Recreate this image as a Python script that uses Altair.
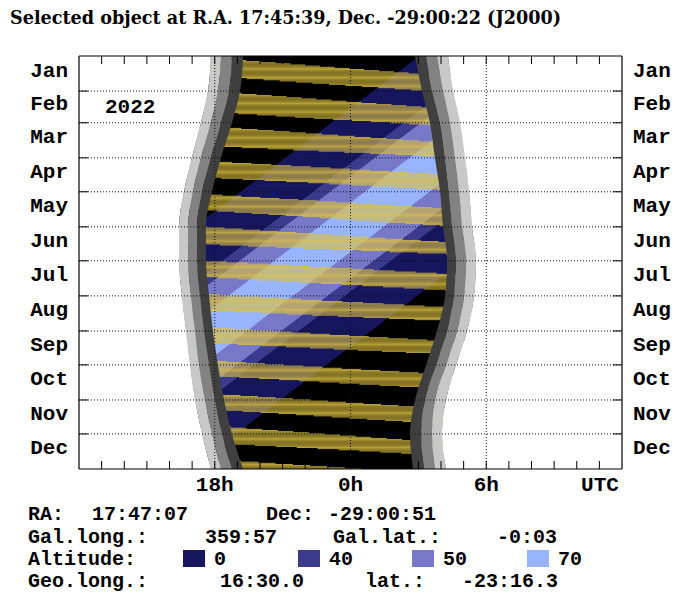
import math
import altair as alt
import pandas as pd

# ------------------------------------------------------------------ data
MONTHS = ["Jan", "Feb", "Mar", "Apr", "May", "Jun",
          "Jul", "Aug", "Sep", "Oct", "Nov", "Dec"]
MONTH_START = [0, 31, 59, 90, 120, 151, 181, 212, 243, 273, 304, 334, 365]

HOUR_TICKS = [18, 24, 30]
HOUR_LABELS = ["18h", "0h", "6h"]
HOUR_MINOR = [13, 14, 15, 16, 17, 18, 19, 20, 21, 22, 23, 24,
              25, 26, 27, 28, 29, 30, 31, 32, 33, 34, 35]

# twilight boundaries (UTC hours, 12..36 = noon..noon) at the month starts
EVE_SUNSET = [17.83, 17.70, 17.39, 16.99, 16.64, 16.42, 16.42, 16.55, 16.73, 16.91, 17.13, 17.44, 17.83]
EVE_CIVIL = [18.28, 18.14, 17.83, 17.39, 17.04, 16.82, 16.82, 16.95, 17.13, 17.30, 17.57, 17.88, 18.28]
EVE_NAUT = [18.76, 18.63, 18.28, 17.83, 17.44, 17.22, 17.22, 17.35, 17.52, 17.75, 18.01, 18.32, 18.76]
EVE_ASTRO = [19.25, 19.12, 18.76, 18.28, 17.88, 17.61, 17.61, 17.75, 17.92, 18.14, 18.41, 18.76, 19.25]
MORN_ASTRO = [26.85, 27.16, 27.51, 27.73, 27.96, 28.09, 28.27, 28.18, 27.82, 27.34, 26.85, 26.63, 26.76]
MORN_NAUT = [27.34, 27.60, 27.96, 28.18, 28.35, 28.49, 28.66, 28.57, 28.27, 27.78, 27.29, 27.12, 27.25]
MORN_CIVIL = [27.82, 28.09, 28.40, 28.62, 28.80, 28.93, 29.11, 29.02, 28.71, 28.22, 27.73, 27.60, 27.73]
MORN_SUNRISE = [28.31, 28.53, 28.84, 29.06, 29.24, 29.37, 29.55, 29.46, 29.15, 28.66, 28.22, 28.04, 28.22]

# object altitude bands: transit time at first/last day and half width (h)
ALT_LEVELS = ["0", "40", "50", "70"]
ALT_COLORS = ["#16165e", "#3b3b8e", "#7878c8", "#98b4fc"]
ALT_HALF_WIDTH = [6.92, 3.72, 2.96, 1.43]
TRANSIT_DAY = [0, 365]
TRANSIT_HOUR = [33.95, 9.97]

# moon: moonset line (waxing) and moonrise line (waning), as (day, hour)
MOONSET_LINES = [
    ((3.8, 19.25), (15.3, 26.76)),
    ((32.9, 19.12), (45.1, 27.20)),
    ((63.3, 18.67), (75.8, 27.60)),
    ((93.4, 18.23), (104.4, 27.82)),
    ((122.4, 17.83), (134.5, 28.00)),
    ((150.9, 17.57), (164.3, 28.13)),
    ((181.0, 17.61), (192.5, 28.27)),
    ((210.5, 17.75), (222.0, 28.18)),
    ((240.0, 17.92), (251.5, 27.82)),
    ((269.5, 18.10), (280.5, 27.43)),
    ((299.0, 18.36), (310.0, 26.90)),
    ((328.0, 18.72), (339.5, 26.63)),
    ((358.0, 19.16), (368.0, 26.80)),
]
MOONRISE_LINES = [
    ((19.7, 19.20), (30.3, 26.90)),
    ((50.9, 18.94), (61.1, 27.51)),
    ((80.3, 18.41), (88.5, 27.69)),
    ((107.8, 18.10), (118.1, 27.96)),
    ((136.4, 17.66), (150.2, 28.09)),
    ((166.5, 17.61), (175.0, 28.22)),
    ((195.5, 17.66), (207.0, 28.18)),
    ((225.0, 17.79), (234.0, 27.96)),
    ((254.0, 17.97), (263.0, 27.51)),
    ((283.0, 18.19), (293.0, 27.05)),
    ((313.0, 18.45), (323.5, 26.70)),
    ((343.0, 18.85), (351.5, 26.70)),
    ((373.0, 19.30), (384.0, 26.90)),
]

TITLE = "Selected object at R.A. 17:45:39, Dec. -29:00:22 (J2000)"
YEAR = "2022"
INFO_ROWS = [
    [("RA:", 28), ("17:47:07", 92), ("Dec:", 266), ("-29:00:51", 328)],
    [("Gal.long.:", 28), ("359:57", 205), ("Gal.lat.:", 333), ("-0:03", 497)],
    [("Altitude:", 28)],
    [("Geo.long.:", 28), ("16:30.0", 220), ("lat.:", 365), ("-23:16.3", 462)],
]
INFO_Y = [514, 537, 559, 581]

# ------------------------------------------------------------------ layout
W, H = 543, 413
LEFT, TOP = 79, 56          # page position of the plot area (px)
MONO = "Liberation Mono"
FS = 21
FS_INFO = 20
GRAY_LIGHT, GRAY_MID, GRAY_DARK = "#c8c8c8", "#828282", "#404040"
MOON_YELLOW = "#dcc040"

XS = alt.Scale(domain=[12, 36], nice=False, zero=False)
YS = alt.Scale(domain=[0, 365], nice=False, zero=False, reverse=True)


def X(f):
    return alt.X(f, type="quantitative", scale=XS, axis=None)


def Y(f):
    return alt.Y(f, type="quantitative", scale=YS, axis=None)


one = pd.DataFrame({"a": [0]})
layers = []

# night background
layers.append(
    alt.Chart(pd.DataFrame({"x": [12], "x2": [36], "y": [0], "y2": [365]}))
    .mark_rect(color="black")
    .encode(x=X("x"), x2="x2", y=Y("y"), y2="y2")
)

# altitude bands
for lvl, col, hw in zip(ALT_LEVELS, ALT_COLORS, ALT_HALF_WIDTH):
    for k in (-24, 0, 24):
        df = pd.DataFrame({
            "d": TRANSIT_DAY,
            "x": [t + k - hw for t in TRANSIT_HOUR],
            "x2": [t + k + hw for t in TRANSIT_HOUR],
        })
        layers.append(
            alt.Chart(df).mark_area(orient="horizontal", color=col, clip=True)
            .encode(y=Y("d"), x=X("x"), x2="x2")
        )


def line_hour(line, d):
    (d0, h0), (d1, h1) = line
    return h0 + (h1 - h0) * (d - d0) / (d1 - d0)


# moon above the horizon: one yellow line per night, from moonrise to moonset
rows = []
for s_line, r_line in zip(MOONSET_LINES, MOONRISE_LINES):
    for d in range(math.floor(s_line[0][0]), math.ceil(r_line[1][0]) + 1):
        rows.append({"d": d, "x": line_hour(r_line, d), "x2": line_hour(s_line, d)})
moon = pd.DataFrame(rows)
layers.append(
    alt.Chart(moon).mark_rule(color=MOON_YELLOW, strokeWidth=0.85, clip=True)
    .encode(y=Y("d"), x=X("x"), x2="x2")
)

# twilight and daylight, evening and morning sides
tw = pd.DataFrame({
    "d": MONTH_START,
    "noon0": [12] * len(MONTH_START),
    "noon1": [36] * len(MONTH_START),
    "es": EVE_SUNSET, "ec": EVE_CIVIL, "en": EVE_NAUT, "ea": EVE_ASTRO,
    "ma": MORN_ASTRO, "mn": MORN_NAUT, "mc": MORN_CIVIL, "ms": MORN_SUNRISE,
})
for lo, hi, col in [("noon0", "es", "white"), ("es", "ec", GRAY_LIGHT),
                    ("ec", "en", GRAY_MID), ("en", "ea", GRAY_DARK),
                    ("ma", "mn", GRAY_DARK), ("mn", "mc", GRAY_MID),
                    ("mc", "ms", GRAY_LIGHT), ("ms", "noon1", "white")]:
    layers.append(
        alt.Chart(tw).mark_area(orient="horizontal", color=col, clip=True,
                                interpolate="monotone")
        .encode(y=Y("d"), x=X(lo), x2=hi)
    )

# dotted grid
grid_m = pd.DataFrame({"d": MONTH_START[1:-1]})
layers.append(
    alt.Chart(grid_m).mark_rule(color="#111111", strokeDash=[1, 2], strokeWidth=1)
    .encode(y=Y("d"), x=alt.value(0), x2=alt.value(W))
)
grid_h = pd.DataFrame({"h": HOUR_TICKS})
layers.append(
    alt.Chart(grid_h).mark_rule(color="#111111", strokeDash=[1, 2], strokeWidth=1)
    .encode(x=X("h"), y=alt.value(0), y2=alt.value(H))
)
# ticks
minor = pd.DataFrame({"h": HOUR_MINOR})
for y0, y1 in [(0, 8), (H - 8, H)]:
    layers.append(
        alt.Chart(minor).mark_rule(color="black", strokeWidth=1)
        .encode(x=X("h"), y=alt.value(y0), y2=alt.value(y1))
    )
for x0, x1 in [(0, 9), (W - 9, W)]:
    layers.append(
        alt.Chart(grid_m).mark_rule(color="black", strokeWidth=1)
        .encode(y=Y("d"), x=alt.value(x0), x2=alt.value(x1))
    )
# frame
for enc in [dict(x=alt.value(0), x2=alt.value(W), y=alt.value(0)),
            dict(x=alt.value(0), x2=alt.value(W), y=alt.value(H)),
            dict(y=alt.value(0), y2=alt.value(H), x=alt.value(0)),
            dict(y=alt.value(0), y2=alt.value(H), x=alt.value(W))]:
    layers.append(alt.Chart(one).mark_rule(color="black", strokeWidth=1.2).encode(**enc))

# month labels on both sides
mlab = pd.DataFrame({
    "m": MONTHS,
    "d": [(MONTH_START[i] + MONTH_START[i + 1]) / 2 for i in range(12)],
})
for xv, al in [(-11, "right"), (W + 11, "left")]:
    layers.append(
        alt.Chart(mlab).mark_text(font=MONO, fontWeight="bold", fontSize=FS,
                                  align=al, baseline="middle", dy=-3, color="black")
        .encode(y=Y("d"), x=alt.value(xv), text="m:N")
    )

# hour labels
hl = pd.DataFrame({"h": HOUR_TICKS, "t": HOUR_LABELS})
layers.append(
    alt.Chart(hl).mark_text(font=MONO, fontWeight="bold", fontSize=FS,
                            align="center", baseline="middle", color="black")
    .encode(x=X("h"), y=alt.value(H + 16), text="t:N")
)


def txt(s, px, py, font=MONO, size=FS, align="left", weight="bold",
        baseline="middle"):
    return (alt.Chart(pd.DataFrame({"t": [s]}))
            .mark_text(font=font, fontSize=size, fontWeight=weight, align=align,
                       baseline=baseline, color="black")
            .encode(text="t:N", x=alt.value(px - LEFT), y=alt.value(py - TOP)))


layers.append(txt("UTC", 600, 485, align="center"))
layers.append(txt(TITLE, 10, 24, font="DejaVu Serif", size=17.6, baseline="alphabetic"))
layers.append(txt(YEAR, 105, 107))

for row, py in zip(INFO_ROWS, INFO_Y):
    for s, px in row:
        layers.append(txt(s, px, py, size=FS_INFO))

# altitude legend
SW_X = [183, 298, 412, 527]
for i, (lvl, col) in enumerate(zip(ALT_LEVELS, ALT_COLORS)):
    x0 = SW_X[i]
    layers.append(
        alt.Chart(one).mark_rect(color=col)
        .encode(x=alt.value(x0 - LEFT), x2=alt.value(x0 + 22 - LEFT),
                y=alt.value(550 - TOP), y2=alt.value(567 - TOP))
    )
    layers.append(txt(lvl, x0 + 31, 559, size=FS_INFO))

chart = (
    alt.layer(*layers)
    .properties(width=W, height=H, autosize="none",
                padding={"left": LEFT - 8, "top": TOP - 8, "right": 51, "bottom": 125})
    .configure_view(stroke=None)
)
chart.save("out.html", embed_options={"renderer": "svg", "actions": False})
